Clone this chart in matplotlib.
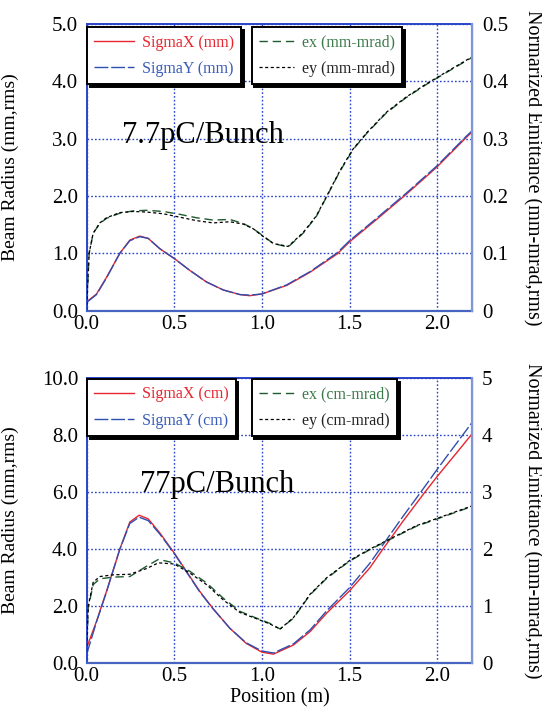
import matplotlib
matplotlib.use("Agg")

import matplotlib.pyplot as plt
import numpy as np

plt.rcParams["font.family"] = ["Liberation Serif", "DejaVu Serif"]

# 7.7 pC/bunch
pos_a = [0.0, 0.057, 0.114, 0.19, 0.247, 0.304, 0.352, 0.418, 0.5, 0.59, 0.684, 0.78, 0.875,
         0.93, 1.0, 1.142, 1.275, 1.43, 1.5, 1.65, 1.82, 2.0, 2.165, 2.2]
sx_a = [0.15, 0.29, 0.58, 1.0, 1.23, 1.3, 1.26, 1.08, 0.91, 0.70, 0.50, 0.36, 0.28,
        0.26, 0.29, 0.44, 0.67, 0.99, 1.2, 1.58, 2.02, 2.51, 3.02, 3.12]
sy_a = [0.14, 0.28, 0.57, 1.0, 1.22, 1.29, 1.26, 1.08, 0.91, 0.70, 0.50, 0.36, 0.28,
        0.27, 0.29, 0.45, 0.68, 1.01, 1.22, 1.6, 2.04, 2.53, 3.04, 3.14]

epos_a = [0.0, 0.015, 0.038, 0.076, 0.114, 0.19, 0.266, 0.342, 0.437, 0.532, 0.627, 0.722,
          0.817, 0.894, 0.95, 1.0, 1.066, 1.15, 1.235, 1.31, 1.37, 1.445, 1.52, 1.6, 1.71,
          1.82, 1.94, 2.05, 2.2]
ex_a = [0.0, 0.10, 0.135, 0.152, 0.161, 0.170, 0.174, 0.175, 0.173, 0.168, 0.162, 0.158,
        0.159, 0.152, 0.143, 0.132, 0.117, 0.111, 0.135, 0.164, 0.199, 0.243, 0.281, 0.31,
        0.345, 0.371, 0.395, 0.415, 0.442]
ey_a = [0.0, 0.10, 0.135, 0.153, 0.162, 0.171, 0.173, 0.172, 0.169, 0.163, 0.157, 0.153,
        0.155, 0.151, 0.143, 0.131, 0.117, 0.112, 0.136, 0.165, 0.2, 0.244, 0.282, 0.311,
        0.346, 0.372, 0.396, 0.416, 0.443]

# 77 pC/bunch
pos_b = [0.0, 0.057, 0.114, 0.19, 0.247, 0.30, 0.352, 0.418, 0.5, 0.57, 0.646, 0.72, 0.817,
         0.91, 1.0, 1.066, 1.18, 1.275, 1.37, 1.5, 1.615, 1.69, 1.805, 1.93, 2.0, 2.127, 2.2]
sx_b = [0.53, 1.47, 2.52, 4.0, 4.95, 5.19, 5.06, 4.57, 3.87, 3.22, 2.52, 1.93, 1.23,
        0.70, 0.39, 0.32, 0.64, 1.11, 1.76, 2.54, 3.34, 4.0, 4.98, 6.0, 6.55, 7.5, 8.05]
sy_b = [0.3, 1.45, 2.5, 4.0, 4.9, 5.12, 5.0, 4.53, 3.85, 3.2, 2.5, 1.92, 1.23,
        0.72, 0.43, 0.36, 0.68, 1.17, 1.84, 2.65, 3.5, 4.15, 5.15, 6.2, 6.8, 7.85, 8.45]

epos_b = [0.0, 0.01, 0.038, 0.076, 0.152, 0.247, 0.342, 0.41, 0.5, 0.59, 0.684, 0.78, 0.875,
          0.97, 1.045, 1.104, 1.18, 1.275, 1.37, 1.5, 1.615, 1.75, 1.88, 2.0, 2.127, 2.2]
ex_b = [0.2, 0.97, 1.38, 1.48, 1.51, 1.52, 1.7, 1.82, 1.76, 1.61, 1.41, 1.14, 0.91,
        0.79, 0.70, 0.60, 0.79, 1.2, 1.49, 1.79, 1.99, 2.2, 2.4, 2.53, 2.67, 2.75]
ey_b = [0.2, 1.0, 1.42, 1.52, 1.55, 1.56, 1.66, 1.76, 1.74, 1.58, 1.38, 1.11, 0.89,
        0.78, 0.69, 0.60, 0.80, 1.21, 1.5, 1.8, 2.0, 2.21, 2.41, 2.54, 2.68, 2.76]

RED = "#e8262f"
BLUE = "#2f4fb0"
GREEN = "#1f5a30"
GRID = "#2a44c8"


def panel(ax, pos, sx, sy, epos, ex, ey, ymax, emax, unit, tag, left_ticks, right_ticks, leg_y):
    ax2 = ax.twinx()
    ax.set_xlim(0, 2.2)
    ax.set_ylim(0, ymax)
    ax2.set_ylim(0, emax)
    ax.set_xticks([0.0, 0.5, 1.0, 1.5, 2.0])
    ax.set_xticklabels(["0.0", "0.5", "1.0", "1.5", "2.0"])
    ax.set_yticks(np.linspace(0, ymax, 6))
    ax.set_yticklabels(left_ticks)
    ax2.set_yticks(np.linspace(0, emax, 6))
    ax2.set_yticklabels(right_ticks)
    ax.tick_params(axis="y", length=0, labelsize=15, pad=6)
    ax.tick_params(axis="x", length=0, labelsize=15, pad=3)
    ax2.tick_params(length=0, labelsize=15, pad=7)
    ax.grid(True, color=GRID, linestyle=(0, (1.2, 1.5)), linewidth=1.0)
    for name in ["left", "top"]:
        ax.spines[name].set_color(GRID)
        ax.spines[name].set_linestyle((0, (1.2, 1.0)))
        ax.spines[name].set_linewidth(1.4)
    ax.spines["bottom"].set_color("#4565c0")
    ax.spines["bottom"].set_linewidth(1.6)
    for name in ["left", "top", "bottom"]:
        ax2.spines[name].set_visible(False)
    ax2.spines["right"].set_color("#7f96d4")
    ax2.spines["right"].set_linewidth(1.6)

    l1, = ax.plot(pos, sx, color=RED, linewidth=1.0, label=f"SigmaX ({unit})")
    l2, = ax.plot(pos, sy, color=BLUE, linewidth=1.0, dashes=(10, 2), label=f"SigmaY ({unit})")
    l3, = ax2.plot(epos, ex, color=GREEN, linewidth=1.0, dashes=(6, 3.5), label=f"ex ({unit}-mrad)")
    l4, = ax2.plot(epos, ey, color="black", linewidth=0.9, dashes=(2.5, 2), label=f"ey ({unit}-mrad)")

    ax.text(tag[1], tag[2], tag[0], fontsize=22, ha="left", va="baseline")

    kw = dict(fontsize=11.5, frameon=True, fancybox=False, framealpha=1, edgecolor="black",
              shadow={"color": "black", "alpha": 1}, labelspacing=0.65,
              borderpad=0.45, handletextpad=0.5, borderaxespad=0)
    leg1 = ax2.legend([l1, l2], [l1.get_label(), l2.get_label()], loc="upper left",
                      bbox_to_anchor=(0.002, leg_y), labelcolor=[RED, "#3a5cb8"],
                      handlelength=2.45, **kw)
    leg1.get_frame().set_linewidth(1.4)
    ax2.add_artist(leg1)
    leg2 = ax2.legend([l3, l4], [l3.get_label(), l4.get_label()], loc="upper left",
                      bbox_to_anchor=(0.428, leg_y), labelcolor=["#3b7a4a", "#222222"],
                      handlelength=2.2, **kw)
    leg2.get_frame().set_linewidth(1.4)

    ax.set_ylabel("Beam Radius (mm,rms)", fontsize=14)
    ax.yaxis.set_label_coords(-0.175, 0.5)
    ax2.set_ylabel("Normarized Emittance (mm-mrad,rms)", fontsize=14.5, rotation=270, va="center")
    ax2.yaxis.set_label_coords(1.155, 0.5)
    return ax2


fig = plt.figure(figsize=(5.42, 7.09), dpi=100)
ax_top = fig.add_axes([0.1596, 0.5619, 0.7118, 0.4042])
ax_bot = fig.add_axes([0.1596, 0.0645, 0.7118, 0.4024])

panel(ax_top, pos_a, sx_a, sy_a, epos_a, ex_a, ey_a, 5.0, 0.5, "mm", ("7.7pC/Bunch", 0.2, 2.92),
      ["0.0", "1.0", "2.0", "3.0", "4.0", "5.0"], ["0", "0.1", "0.2", "0.3", "0.4", "0.5"], 0.9885)
panel(ax_bot, pos_b, sx_b, sy_b, epos_b, ex_b, ey_b, 10.0, 5.0, "cm", ("77pC/Bunch", 0.305, 6.0),
      ["0.0", "2.0", "4.0", "6.0", "8.0", "10.0"], ["0", "1", "2", "3", "4", "5"], 0.9965)
ax_bot.set_xlabel("Position (m)", fontsize=14.5, labelpad=1)

fig.savefig("out.png", dpi=100)
